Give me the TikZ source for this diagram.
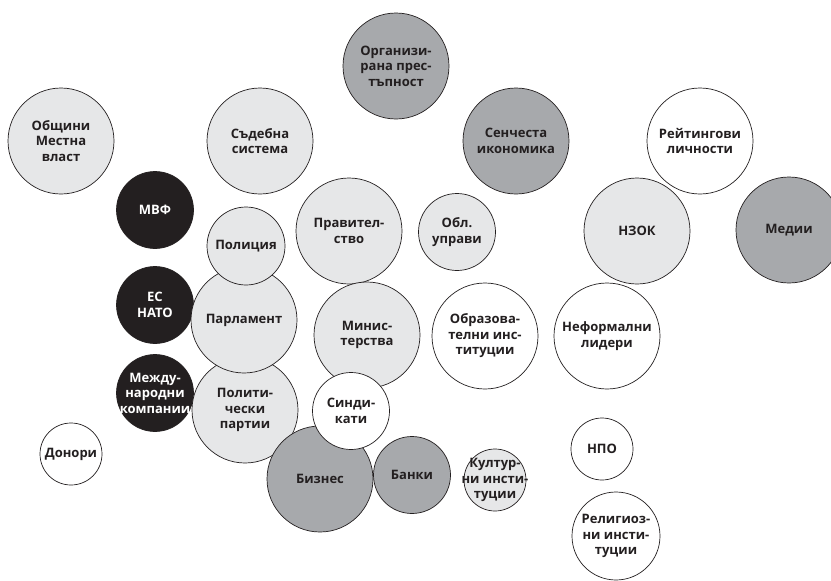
\documentclass[tikz,border=0pt]{standalone}
\usepackage{fontspec}
\setmainfont{Open Sans}[Script=Cyrillic,Language=Bulgarian,BoldFont={Open Sans Bold}]
\definecolor{lightg}{HTML}{E6E7E8}
\definecolor{midg}{HTML}{A7A9AC}
\definecolor{blk}{HTML}{231F20}
\begin{document}
\begin{tikzpicture}[x=1pt,y=-1pt,
  bub/.style={circle,draw=blk,line width=0.7pt,inner sep=0pt},
  r53/.style={minimum size=106pt},
  r38/.style={minimum size=77pt},
  r31/.style={minimum size=62pt},
  r44/.style={minimum size=88pt},
  lg/.style={fill=lightg},
  mg/.style={fill=midg},
  bk/.style={fill=blk},
  wh/.style={fill=white},
  lbl/.style={align=center,font=\fontsize{13}{15.5}\selectfont\bfseries,text=blk,inner sep=0pt},
  wlbl/.style={lbl,text=white}]
\useasboundingbox (0,0) rectangle (831,581);
\clip (0,0) rectangle (831,581);
% back row
\node[bub,r53,mg] (org) at (396,66) {};
\node[lbl] (torg) at (org) {Организи-\\рана прес-\\тъпност};
\node[bub,r53,lg] (obs) at (61,141) {};
\node[lbl] (tobs) at (obs) {Общини\\Местна\\власт};
\node[bub,r53,lg] (sud) at (260,141) {};
\node[lbl] (tsud) at (sud) {Съдебна\\система};
\node[bub,r53,mg] (sen) at (516,141) {};
\node[lbl] (tsen) at (sen) {Сенчеста\\икономика};
\node[bub,r53,wh] (rei) at (700,141) {};
\node[lbl] (trei) at (rei) {Рейтингови\\личности};
\node[bub,r38,bk] (mvf) at (155,210) {};
\node[wlbl] (tmvf) at (mvf) {МВФ};
\node[bub,r53,lg] (prav) at (349,231) {};
\node[lbl] (tprav) at (prav) {Правител-\\ство};
\node[bub,r38,lg] (obl) at (457,232) {};
\node[lbl] (tobl) at (obl) {Обл.\\управи};
\node[bub,r53,lg] (nzok) at (637,231) {};
\node[lbl] (tnzok) at (nzok) {НЗОК};
\node[bub,r53,mg] (med) at (789,230) {};
\node[lbl] (tmed) at (med) {Медии};
\node[bub,r38,bk] (es) at (155,305) {};
\node[wlbl] (tes) at (es) {ЕС\\НАТО};
\node[bub,r38,bk] (mk) at (155,393) {};
\node[wlbl] (tmk) at (mk) {Между-\\народни\\компании};
% overlapping cluster
\node[bub,r53,lg] (pol) at (245,410) {};
\node[lbl] (tpol) at (pol) {Полити-\\чески\\партии};
\node[bub,r53,lg] (par) at (244,320) {};
\node[lbl] (tpar) at (par) {Парламент};
\node[bub,minimum size=78pt,lg] (poli) at (246,246) {};
\node[lbl] (tpoli) at (poli) {Полиция};
\node[bub,r53,lg] (min) at (367,335) {};
\node[lbl] (tmin) at (min) {Минис-\\терства};
\node[bub,r53,mg] (biz) at (320,479) {};
\node[lbl] (tbiz) at (biz) {Бизнес};
\node[bub,r38,wh] (sin) at (351,411) {};
\node[lbl] (tsin) at (sin) {Синди-\\кати};
\node[bub,r38,mg] (ban) at (412,475) {};
\node[lbl] (tban) at (ban) {Банки};
\node[bub,r53,wh] (obr) at (485,336) {};
\node[lbl] (tobr) at (obr) {Образова-\\телни инс-\\титуции};
\node[bub,r53,wh] (nef) at (607,336) {};
\node[lbl] (tnef) at (nef) {Неформални\\лидери};
\node[bub,r31,wh] (don) at (71,454) {};
\node[lbl] (tdon) at (don) {Донори};
\node[bub,r31,lg] (kul) at (495,480) {};
\node[lbl] (tkul) at (kul) {Култур-\\ни инсти-\\туции};
\node[bub,r31,wh] (npo) at (602,449) {};
\node[lbl] (tnpo) at (npo) {НПО};
\node[bub,r44,wh] (rel) at (616,536) {};
\node[lbl] (trel) at (rel) {Религиоз-\\ни инсти-\\туции};
\end{tikzpicture}
\end{document}
